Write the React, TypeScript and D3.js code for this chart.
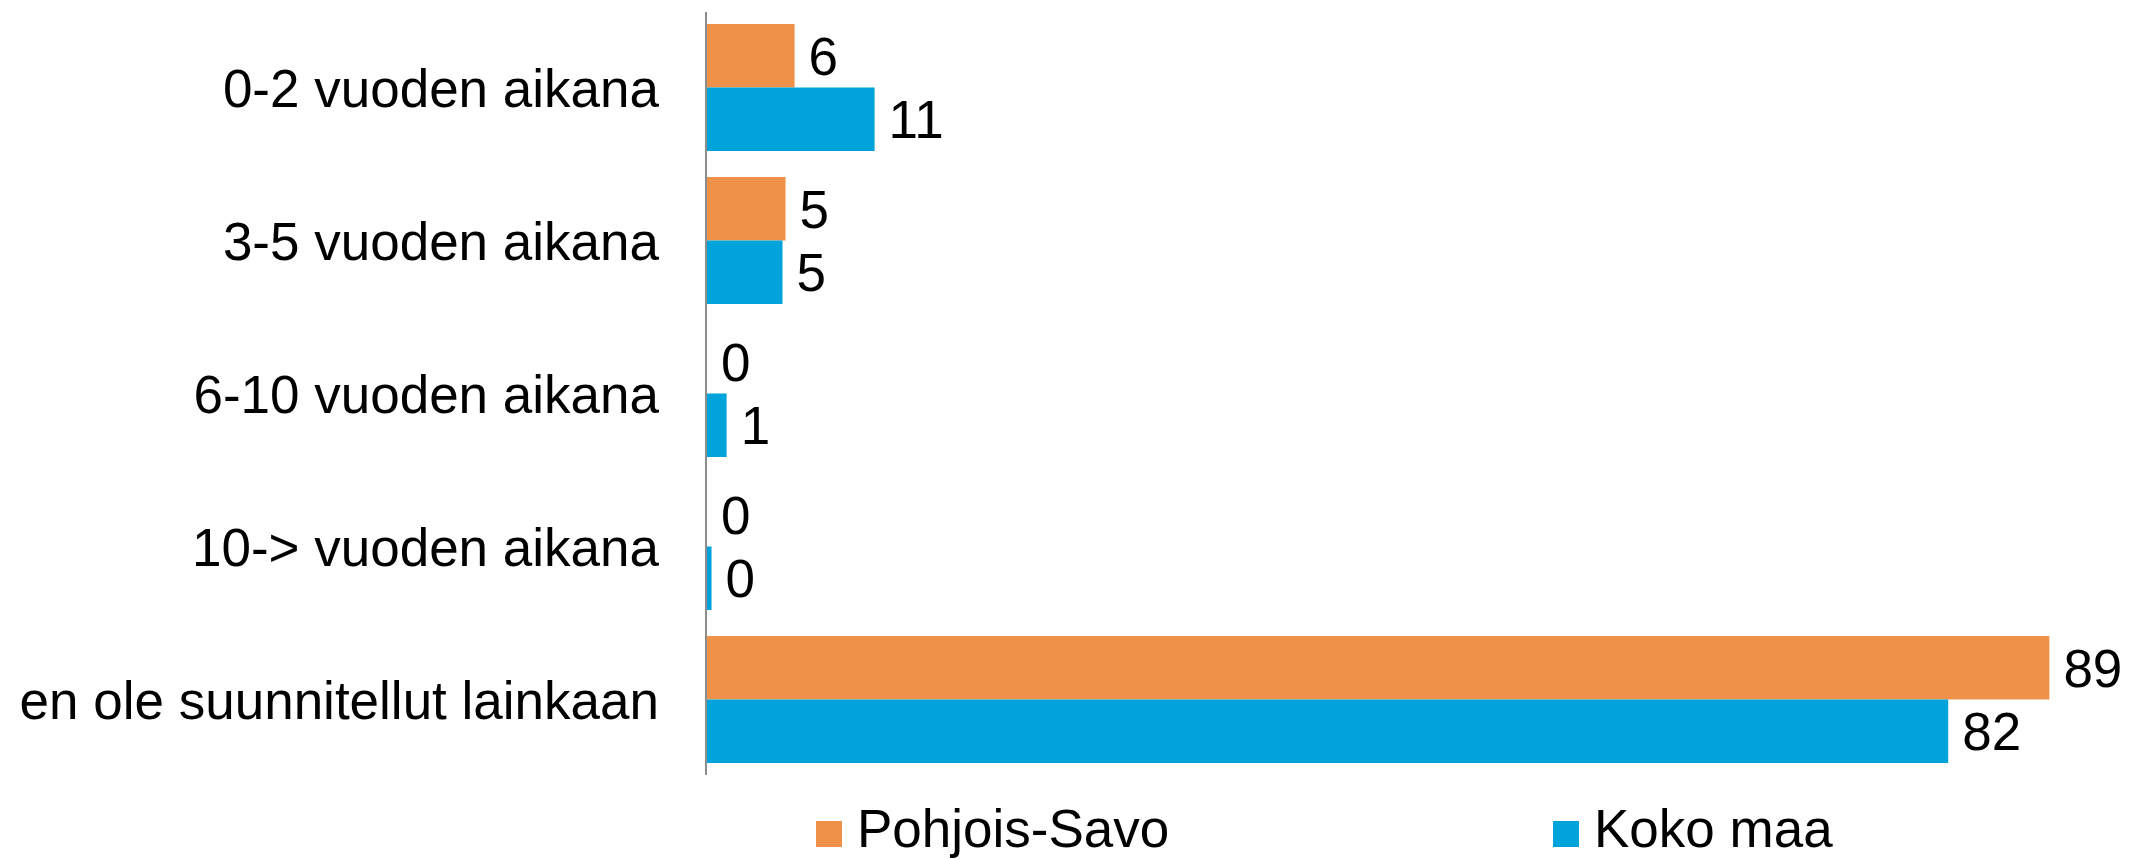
import React from "react";
import * as d3 from "d3";

const categories = [
  "0-2 vuoden aikana",
  "3-5 vuoden aikana",
  "6-10 vuoden aikana",
  "10-> vuoden aikana",
  "en ole suunnitellut lainkaan",
];
const seriesNames = ["Pohjois-Savo", "Koko maa"];
const pohjoisSavo = [5.8, 5.2, 0, 0, 88.9];
const kokoMaa = [11.1, 5.0, 1.3, 0.3, 82.2];
const seriesValues = [pohjoisSavo, kokoMaa];
const colors = ["#F0914A", "#00A4DA"];

const W = 2129;
const H = 859;
const FONT = "'Liberation Sans', Arial, sans-serif";
const FS = 53;

export default function App() {
  const x = d3.scaleLinear().domain([0, 90]).range([707, 707 + 90 * 15.1]);
  const y0 = d3
    .scaleBand<string>()
    .domain(categories)
    .range([11, 776])
    .paddingInner(0.17)
    .paddingOuter(0.085);
  const y1 = d3
    .scaleBand<string>()
    .domain(seriesNames)
    .range([0, y0.bandwidth()]);

  const legendX = [816, 1553];

  return (
    <svg
      width={W}
      height={H}
      style={{ position: "absolute", left: 0, top: 0, background: "#fff" }}
      fontFamily={FONT}
    >
      {categories.map((c, i) => (
        <g key={c}>
          <text
            x={659}
            y={(y0(c) as number) + y0.bandwidth() / 2}
            dy="0.36em"
            textAnchor="end"
            fontSize={FS}
            fill="#000"
          >
            {c}
          </text>
          {seriesNames.map((s, j) => {
            const v = seriesValues[j][i];
            const yy = (y0(c) as number) + (y1(s) as number);
            return (
              <g key={s}>
                {v > 0 && (
                  <rect
                    x={x(0)}
                    y={yy}
                    width={x(v) - x(0)}
                    height={y1.bandwidth()}
                    fill={colors[j]}
                  />
                )}
                <text
                  x={x(v) + 14}
                  y={yy + y1.bandwidth() / 2}
                  dy="0.36em"
                  fontSize={FS}
                  fill="#000"
                >
                  {Math.round(v)}
                </text>
              </g>
            );
          })}
        </g>
      ))}
      <line x1={706} x2={706} y1={12} y2={775} stroke="#8c8c8c" strokeWidth={2} />
      {seriesNames.map((s, j) => (
        <g key={s}>
          <rect x={legendX[j]} y={821} width={26} height={26} fill={colors[j]} />
          <text x={legendX[j] + 41} y={847} fontSize={FS} fill="#000">
            {s}
          </text>
        </g>
      ))}
    </svg>
  );
}
